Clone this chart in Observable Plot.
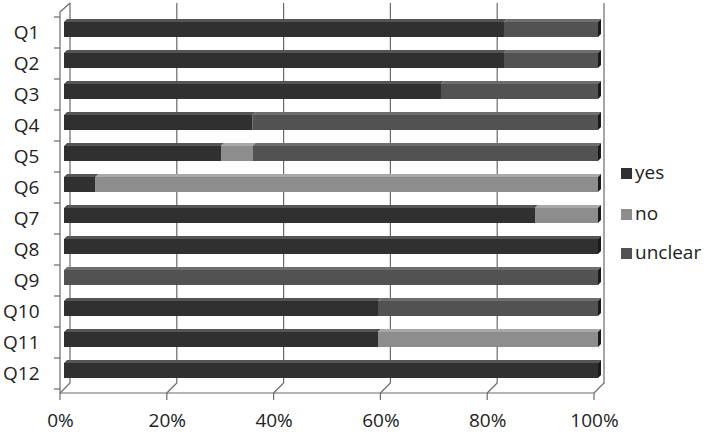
<!DOCTYPE html>
<html><head><meta charset="utf-8">
<script src="https://cdn.jsdelivr.net/npm/d3@7"></script>
<script src="https://cdn.jsdelivr.net/npm/@observablehq/plot@0.6"></script>
<style>
body{margin:0;background:#fff;}
#wrap{width:709px;height:432px;}
</style></head><body><div id="wrap"></div>
<script>
const questions = ["Q1","Q2","Q3","Q4","Q5","Q6","Q7","Q8","Q9","Q10","Q11","Q12"];
const answers = ["yes","no","unclear"];
const yesPct     = [82.4, 82.4, 70.6, 35.3, 29.4,  5.9, 88.2, 100,   0, 58.8, 58.8, 100];
const noPct      = [   0,    0,    0,    0,  5.9, 94.1, 11.8,   0,   0,    0, 41.2,   0];
const unclearPct = [17.6, 17.6, 29.4, 64.7, 64.7,    0,    0,   0, 100, 41.2,    0,   0];
const xTicks = [0, 20, 40, 60, 80, 100];
const colors = ["#303030", "#8d8d8d", "#525252"];
const topColors = ["#555555", "#a8a8a8", "#6e6e6e"];
const sideColor = "#1a1a1a";

const series = [yesPct, noPct, unclearPct];
const rows = [];
questions.forEach((q, i) => {
  let acc = 0;
  answers.forEach((a, k) => {
    const v = series[k][i];
    if (v > 0) rows.push({q, answer: a, k, x1: acc, x2: acc + v});
    acc += v;
  });
});
const totals = questions.map((q, i) => yesPct[i] + noPct[i] + unclearPct[i]);

const BAR_DY = -3, D = 3;

function walls(index, scales, values, dim) {
  const x = scales.x, y = scales.y;
  const yTop = dim.marginTop, yBot = dim.height - dim.marginBottom;
  const front = v => x(v) - 4, back = v => x(v) + 6;
  const g = d3.create("svg:g").attr("fill", "none").attr("stroke", "#6a6a6a").attr("stroke-width", 1.2);
  xTicks.forEach(v => {
    g.append("path").attr("d", `M${back(v)},${yTop - 9}V${yBot - 10}L${front(v)},${yBot}`);
    g.append("path").attr("d", `M${front(v)},${yBot}V${yBot + 7}`);
  });
  g.append("path").attr("d", `M${front(0)},${yBot}V${yTop}L${back(0)},${yTop - 9}`);
  g.append("path").attr("d", `M${front(0)},${yBot}H${front(100)}`);
  const step = y.step(), bw = y.bandwidth(), pad = (step - bw) / 2;
  questions.forEach(q => {
    const b = y(q) - pad;
    g.append("path").attr("d", `M${front(0) - 6},${b}H${front(0)}`);
  });
  const last = y(questions[questions.length - 1]) + bw + pad;
  g.append("path").attr("d", `M${front(0) - 6},${last}H${front(0)}`);
  return g.node();
}

function faces(index, scales, values, dim) {
  const x = scales.x, y = scales.y;
  const bw = y.bandwidth();
  const g = d3.create("svg:g");
  rows.forEach(r => {
    const x1 = x(r.x1), x2 = x(r.x2);
    const t = y(r.q) + BAR_DY, b = t + bw;
    g.append("path").attr("fill", topColors[r.k])
      .attr("d", `M${x1},${t}L${x2},${t}L${x2 + D},${t - D}L${x1 + D},${t - D}Z`);
    const qi = questions.indexOf(r.q);
    if (Math.abs(r.x2 - totals[qi]) < 1e-6) {
      g.append("path").attr("fill", sideColor)
        .attr("d", `M${x2},${t}L${x2 + D},${t - D}L${x2 + D},${b - D}L${x2},${b}Z`);
    }
  });
  return g.node();
}

function legend(index, scales, values, dim) {
  const g = d3.create("svg:g").attr("text-anchor", "start");
  const base = [179, 220, 259];
  answers.forEach((a, k) => {
    g.append("rect").attr("x", 621).attr("y", base[k] - 11).attr("width", 11).attr("height", 11)
      .attr("fill", scales.color(a));
    g.append("text").attr("x", 635).attr("y", base[k]).attr("fill", "#222")
      .attr("text-anchor", "start").attr("font-size", 19).text(a);
  });
  return g.node();
}

const chart = Plot.plot({
  width: 709,
  height: 432,
  marginLeft: 64,
  marginRight: 111,
  marginTop: 12,
  marginBottom: 39,
  style: {fontFamily: "'Open Sans', sans-serif", fontSize: "19px", color: "#222", background: "#fff"},
  x: {domain: [0, 100], axis: null},
  y: {domain: questions, paddingInner: 0.52, paddingOuter: 0.26, axis: null},
  color: {domain: answers, range: colors},
  marks: [
    walls,
    faces,
    Plot.barX(rows, {x1: "x1", x2: "x2", y: "q", fill: "answer", dy: BAR_DY}),
    Plot.axisY({tickSize: 0, tickPadding: 25, label: null, fontSize: 19}),
    Plot.axisX({ticks: xTicks, tickSize: 0, tickPadding: 20, dx: -4, label: null, fontSize: 19,
                tickFormat: d => d + "%"}),
    legend
  ]
});
document.getElementById("wrap").appendChild(chart);
</script></body></html>
